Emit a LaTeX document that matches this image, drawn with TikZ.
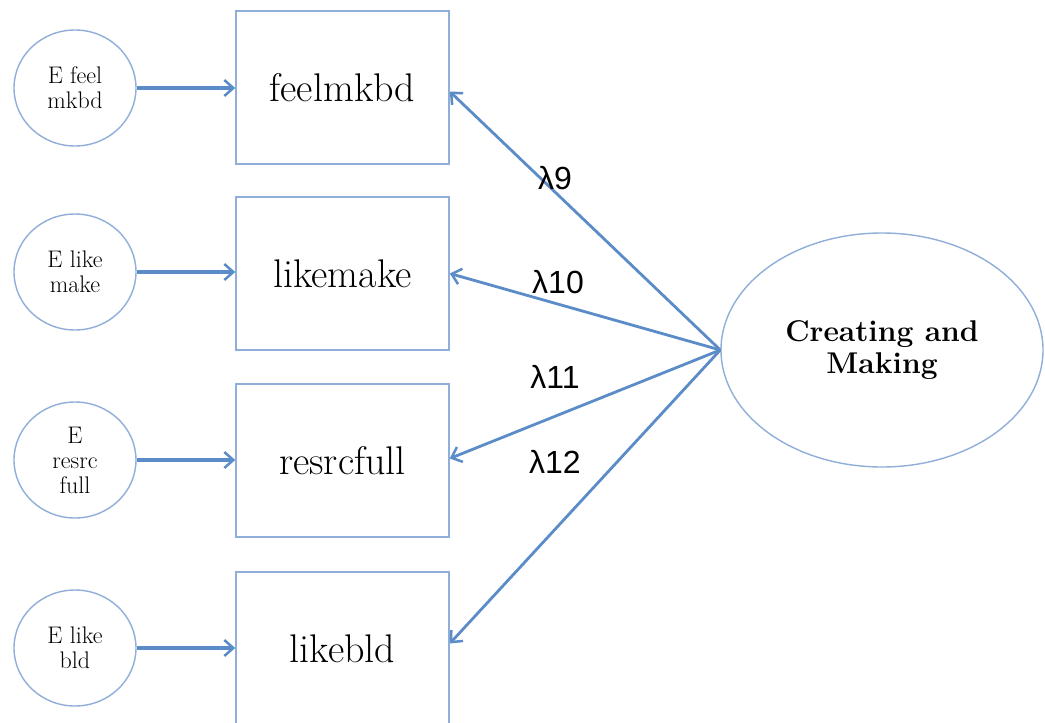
\documentclass[tikz,border=0pt]{standalone}
\usepackage{fontspec}
\newfontfamily\lamfont{Liberation Sans}
\usetikzlibrary{arrows.meta,shapes.geometric}
\definecolor{arrowblue}{HTML}{5B8CC8}
\definecolor{edgeblue}{HTML}{8FAFDA}
\tikzset{
  obsbox/.style={draw=edgeblue,line width=1.6pt,minimum width=213pt,minimum height=153pt,inner sep=0pt,font=\fontsize{40}{44}\selectfont},
  errcirc/.style={draw=edgeblue,line width=1.4pt,ellipse,minimum width=122pt,minimum height=116pt,inner sep=0pt,align=center,font=\fontsize{24}{25}\selectfont},
  latent/.style={draw=edgeblue,line width=1.4pt,ellipse,minimum width=322pt,minimum height=234pt,inner sep=0pt,align=center,font=\bfseries\fontsize{30}{32}\selectfont},
  errarrow/.style={draw=arrowblue,line width=3.5pt,-{Straight Barb[length=9pt,width=16pt,line width=2.5pt]}},
  loadarrow/.style={draw=arrowblue,line width=2.8pt,-{Straight Barb[length=9pt,width=16pt,line width=2.5pt]}},
  lamlabel/.style={font=\lamfont\fontsize{32}{36}\selectfont,inner sep=0pt}
}
\begin{document}
\begin{tikzpicture}[x=1pt,y=-1pt]
\useasboundingbox[fill=white] (0,0) rectangle (1045,723);
\node[obsbox] (b1) at (342.5,87.5) {feelmkbd};
\node[obsbox] (b2) at (342.5,273.5) {likemake};
\node[obsbox] (b3) at (342.5,460.5) {resrcfull};
\node[obsbox] (b4) at (342.5,648.5) {likebld};
\node[errcirc] (c1) at (75,88) {E feel\\mkbd};
\node[errcirc] (c2) at (75,272) {E like\\make};
\node[errcirc] (c3) at (75,460) {E\\resrc\\full};
\node[errcirc] (c4) at (75,648) {E like\\bld};
\node[latent] (f) at (882,350) {Creating and\\Making};
\draw[errarrow] (c1.east) -- (b1.west |- c1.east);
\draw[errarrow] (c2.east) -- (b2.west |- c2.east);
\draw[errarrow] (c3.east) -- (b3.west |- c3.east);
\draw[errarrow] (c4.east) -- (b4.west |- c4.east);
\draw[loadarrow] (f.west) -- ([yshift=-4pt]b1.east);
\draw[loadarrow] (f.west) -- (b2.east);
\draw[loadarrow] (f.west) -- ([yshift=2pt]b3.east);
\draw[loadarrow] (f.west) -- ([yshift=5pt]b4.east);
\node[lamlabel] (l9) at (555,178) {λ9};
\node[lamlabel] (l10) at (558,282) {λ10};
\node[lamlabel] (l11) at (555,377) {λ11};
\node[lamlabel] (l12) at (555,462) {λ12};
\end{tikzpicture}
\end{document}
